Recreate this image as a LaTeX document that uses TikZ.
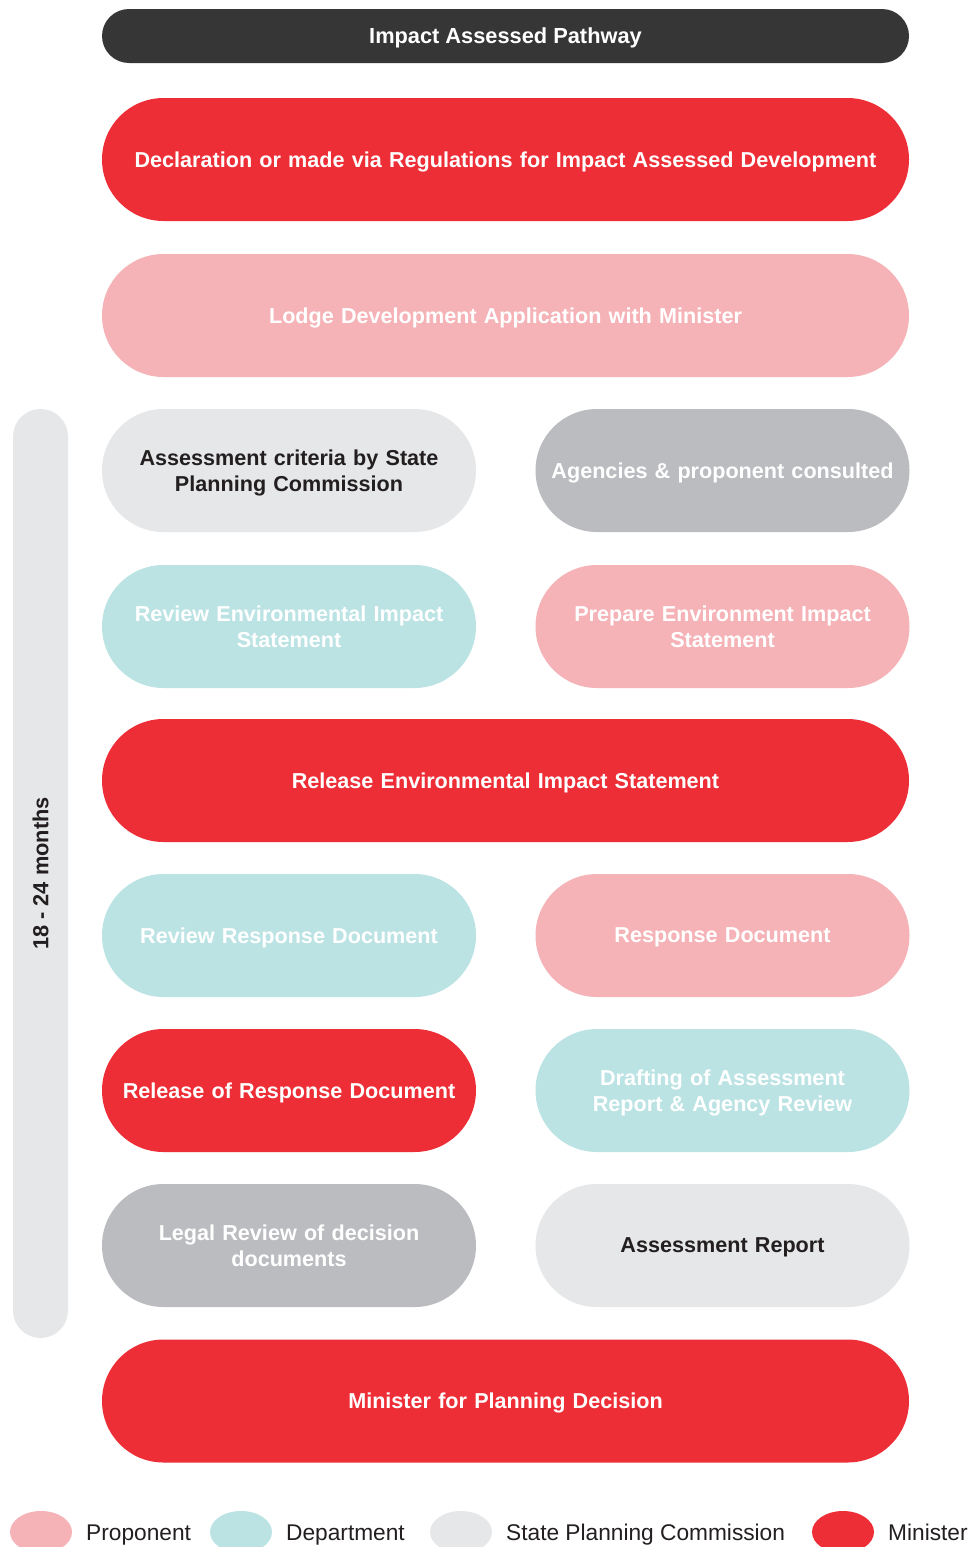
\documentclass[tikz,border=0pt]{standalone}
\usepackage{fontspec}
\setmainfont{Liberation Sans}
\usetikzlibrary{shapes.geometric}
\definecolor{cred}{HTML}{EE2E36}
\definecolor{cpink}{HTML}{F5B3B7}
\definecolor{cteal}{HTML}{BCE3E4}
\definecolor{clight}{HTML}{E6E7E8}
\definecolor{cgray}{HTML}{BBBCC0}
\definecolor{cdark}{HTML}{363636}
\definecolor{ctext}{HTML}{231F20}
\tikzset{
  pill/.style={rectangle, rounded corners=61.5pt, minimum height=123pt, inner sep=0pt,
    align=center, text depth=0pt, font=\fontsize{21.6}{26}\selectfont\bfseries},
  twoline/.style={text depth=26pt},
  wide/.style={pill, minimum width=807pt, text width=790pt},
  half/.style={pill, minimum width=374pt, text width=350pt},
  minister/.style={fill=cred, text=white},
  proponent/.style={fill=cpink, text=white},
  dept/.style={fill=cteal, text=white},
  spc/.style={fill=clight, text=ctext},
  agency/.style={fill=cgray, text=white},
  legdot/.style={ellipse, minimum width=62pt, minimum height=42pt, inner sep=0pt},
  legtext/.style={anchor=base west, inner sep=0pt, text=ctext, font=\fontsize{22.7}{26}\selectfont},
}
\begin{document}
\begin{tikzpicture}[x=1pt,y=-1pt]
\useasboundingbox (0,0) rectangle (973,1547);
\fill[white] (0,0) rectangle (973,1547);
% title
\node[rectangle, rounded corners=27pt, minimum width=807pt, minimum height=54pt, fill=cdark,
  text=white, text depth=0pt, font=\fontsize{21.8}{26}\selectfont\bfseries, inner sep=0pt] (title) at (505.5,36) {Impact Assessed Pathway};
% side bar
\node[rectangle, rounded corners=27.5pt, minimum width=55pt, minimum height=929pt, fill=clight, inner sep=0pt] (bar) at (40.5,873.5) {};
\node[rotate=90, text=ctext, text depth=0pt, font=\fontsize{21.8}{26}\selectfont\bfseries, inner sep=0pt] (months) at (bar.center) {18 - 24 months};
% rows
\node[wide, minister] (decl) at (505.5,159.5) {Declaration or made via Regulations for Impact Assessed Development};
\node[wide, proponent] (lodge) at (505.5,315.5) {Lodge Development Application with Minister};
\node[half, spc, twoline] (crit) at (289,470.5) {Assessment criteria by State\\Planning Commission};
\node[half, agency] (agen) at (722.5,470.5) {Agencies \& proponent consulted};
\node[half, dept, twoline] (revEIS) at (289,626.5) {Review Environmental Impact\\Statement};
\node[half, proponent, twoline] (prepEIS) at (722.5,626.5) {Prepare Environment Impact\\Statement};
\node[wide, minister] (relEIS) at (505.5,780.5) {Release Environmental Impact Statement};
\node[half, dept] (revResp) at (289,935.5) {Review Response Document};
\node[half, proponent] (resp) at (722.5,935.5) {Response Document};
\node[half, minister] (relResp) at (289,1090.5) {Release of Response Document};
\node[half, dept, twoline] (draft) at (722.5,1090.5) {Drafting of Assessment\\Report \& Agency Review};
\node[half, agency, twoline] (legal) at (289,1245.5) {Legal Review of decision\\documents};
\node[half, spc] (assess) at (722.5,1245.5) {Assessment Report};
\node[wide, minister] (decision) at (505.5,1401) {Minister for Planning Decision};
% legend
\node[legdot, fill=cpink] (lp) at (41,1532) {};
\node[legtext] (lpt) at (86,1540) {Proponent};
\node[legdot, fill=cteal] (ld) at (241,1532) {};
\node[legtext] (ldt) at (286,1540) {Department};
\node[legdot, fill=clight] (ls) at (461,1532) {};
\node[legtext] (lst) at (506,1540) {State Planning Commission};
\node[legdot, fill=cred] (lm) at (843,1532) {};
\node[legtext] (lmt) at (888,1540) {Minister};
\end{tikzpicture}
\end{document}
